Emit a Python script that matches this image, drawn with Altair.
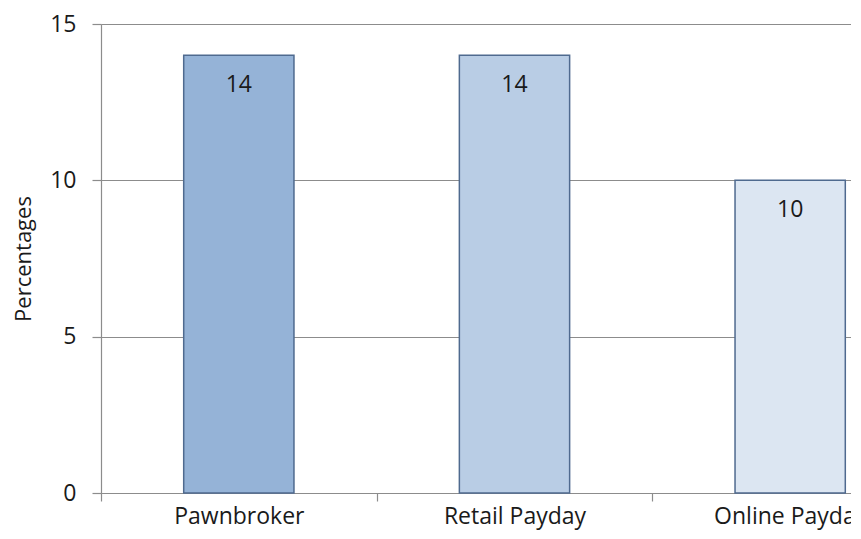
import altair as alt
import pandas as pd

categories = ["Pawnbroker", "Retail Payday", "Online Payday"]
values = [14, 14, 10]
colors = ["#95B3D7", "#B9CDE5", "#DCE6F2"]

df = pd.DataFrame({"category": categories, "value": values, "color": colors})

FONT = "Open Sans"
GRAY = "#8c8c8c"
TXT = "#1a1a1a"

x = alt.X(
    "category:N", sort=categories, title=None,
    scale=alt.Scale(paddingInner=0, paddingOuter=0, range=[0, 827]),
    axis=alt.Axis(labelAngle=0, tickBand="extent", domainColor=GRAY, tickColor=GRAY,
                  tickSize=8, labelFontSize=23, labelColor=TXT, labelPadding=4,
                  labelFont=FONT, grid=False, domainWidth=1.2, tickWidth=1.2),
)
y = alt.Y(
    "value:Q", scale=alt.Scale(domain=[0, 15]),
    axis=alt.Axis(values=[0, 5, 10, 15], title="Percentages", titleFontSize=22,
                  titleFontWeight="normal", titleFont=FONT, titleColor=TXT, titlePadding=14,
                  gridColor=GRAY, gridWidth=1.2, domainColor=GRAY, domainWidth=1.2,
                  tickColor=GRAY, tickWidth=1.2, tickSize=9, labelPadding=16,
                  labelFontSize=23, labelFont=FONT, labelColor=TXT),
)

bars = alt.Chart(df).mark_bar(
    width=alt.RelativeBandSize(0.4), stroke="#4F6A8F", strokeWidth=1.5
).encode(x=x, y=y, color=alt.Color("color:N", scale=None))

text = alt.Chart(df).mark_text(
    dy=30, baseline="middle", fontSize=23, font=FONT, color=TXT
).encode(x=x, y=y, text="value:Q")

chart = (bars + text).properties(
    width=750, height=469,
    autosize=alt.AutoSizeParams(type="none"),
    padding={"left": 93, "top": 16, "right": 0, "bottom": 38},
).configure_view(stroke=None).configure(background="white")

chart.save("out.html", embed_options={"renderer": "svg", "actions": False})
